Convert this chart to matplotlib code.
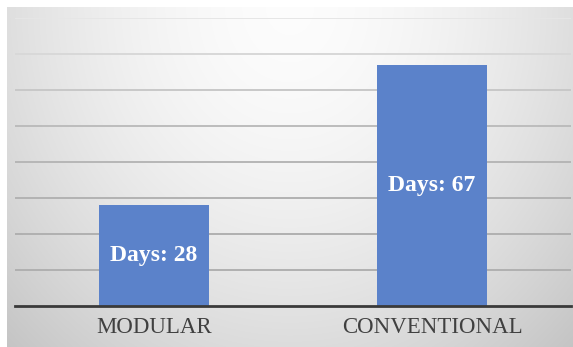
import numpy as np
import matplotlib
matplotlib.use('Agg')
import matplotlib.pyplot as plt

categories = ['MODULAR', 'CONVENTIONAL']
days = [28, 67]
labels = ['Days: 28', 'Days: 67']

W, H = 573, 347
fig = plt.figure(figsize=(W / 100, H / 100), dpi=100)
fig.patch.set_facecolor('white')

# shaded panel behind the chart: light in the upper middle, grey towards the edges
bg = fig.add_axes([7 / W, 0, 1 - 7 / W, 1 - 7 / H])
gx, gy = np.meshgrid(np.linspace(-1, 1, 400), np.linspace(0, 1, 240))
r = np.sqrt((gx / 1.2) ** 2 + ((1 - gy) / 1.15) ** 2)
shade = 0.99 - 0.16 * np.clip(r, 0, 1.2) ** 1.7
bg.imshow(np.dstack([shade] * 3), aspect='auto', origin='lower',
          extent=[0, 1, 0, 1], interpolation='bilinear')
bg.set_axis_off()

# plot area
left, right = 15, 571
top, bottom = 18.3, 305.7
ax = fig.add_axes([left / W, 1 - bottom / H, (right - left) / W, (bottom - top) / H])
ax.set_facecolor('none')

x = np.arange(len(categories))
ax.bar(x, days, width=0.396, color='#5b82ca', zorder=3)
for xi, v, lab in zip(x, days, labels):
    ax.text(xi, v / 2, lab, ha='center', va='center', color='white',
            fontsize=17, fontweight='bold', family='Liberation Serif', zorder=4)

ax.set_xlim(-0.5, 1.5)
ax.set_ylim(0, 80)
ax.set_yticks(np.arange(10, 81, 10))
ax.yaxis.grid(True, linewidth=1.4, zorder=1)
# grid fades out towards the top
grid_greys = ['#b0b0b0', '#b0b0b0', '#b2b2b2', '#b6b6b6', '#bcbcbc', '#c8c8c8', '#d8d8d8', '#e6e6e6']
for gl, c in zip(ax.get_ygridlines(), grid_greys):
    gl.set_color(c)
ax.tick_params(axis='y', left=False, labelleft=False)
ax.set_xticks(x)
ax.set_xticklabels(categories, family='Liberation Serif', fontsize=16.5, color='#404040')
ax.tick_params(axis='x', length=0, pad=8)
for side in ['top', 'right', 'left']:
    ax.spines[side].set_visible(False)
ax.spines['bottom'].set_color('#3a3a3a')
ax.spines['bottom'].set_linewidth(2)
ax.spines['bottom'].set_zorder(5)

fig.savefig('out.png', dpi=100)
